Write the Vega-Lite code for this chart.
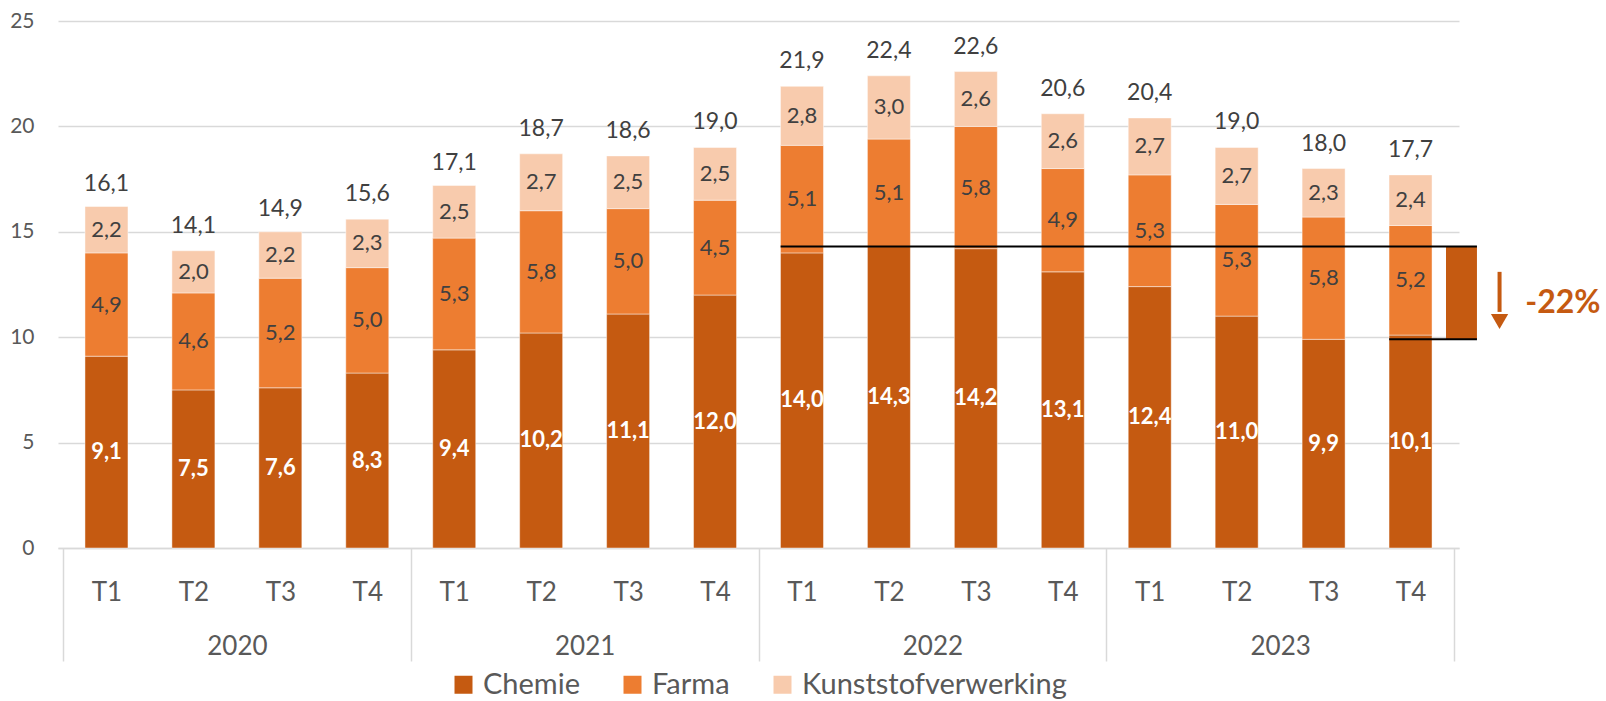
{
  "$schema": "https://vega.github.io/schema/vega-lite/v6.json",
  "width": 1401,
  "height": 527,
  "autosize": {"type": "none"},
  "padding": {"left": 58, "top": 21, "right": 147, "bottom": 153},
  "config": {"view": {"stroke": null}, "font": "Lato", "text": {"font": "Lato"}},
  "datasets": {
    "segments": [
      {"year": 2020, "quarter": 1, "series": "Chemie", "value": 9.1},
      {"year": 2020, "quarter": 1, "series": "Farma", "value": 4.9},
      {"year": 2020, "quarter": 1, "series": "Kunststofverwerking", "value": 2.2},
      {"year": 2020, "quarter": 2, "series": "Chemie", "value": 7.5},
      {"year": 2020, "quarter": 2, "series": "Farma", "value": 4.6},
      {"year": 2020, "quarter": 2, "series": "Kunststofverwerking", "value": 2.0},
      {"year": 2020, "quarter": 3, "series": "Chemie", "value": 7.6},
      {"year": 2020, "quarter": 3, "series": "Farma", "value": 5.2},
      {"year": 2020, "quarter": 3, "series": "Kunststofverwerking", "value": 2.2},
      {"year": 2020, "quarter": 4, "series": "Chemie", "value": 8.3},
      {"year": 2020, "quarter": 4, "series": "Farma", "value": 5.0},
      {"year": 2020, "quarter": 4, "series": "Kunststofverwerking", "value": 2.3},
      {"year": 2021, "quarter": 1, "series": "Chemie", "value": 9.4},
      {"year": 2021, "quarter": 1, "series": "Farma", "value": 5.3},
      {"year": 2021, "quarter": 1, "series": "Kunststofverwerking", "value": 2.5},
      {"year": 2021, "quarter": 2, "series": "Chemie", "value": 10.2},
      {"year": 2021, "quarter": 2, "series": "Farma", "value": 5.8},
      {"year": 2021, "quarter": 2, "series": "Kunststofverwerking", "value": 2.7},
      {"year": 2021, "quarter": 3, "series": "Chemie", "value": 11.1},
      {"year": 2021, "quarter": 3, "series": "Farma", "value": 5.0},
      {"year": 2021, "quarter": 3, "series": "Kunststofverwerking", "value": 2.5},
      {"year": 2021, "quarter": 4, "series": "Chemie", "value": 12.0},
      {"year": 2021, "quarter": 4, "series": "Farma", "value": 4.5},
      {"year": 2021, "quarter": 4, "series": "Kunststofverwerking", "value": 2.5},
      {"year": 2022, "quarter": 1, "series": "Chemie", "value": 14.0},
      {"year": 2022, "quarter": 1, "series": "Farma", "value": 5.1},
      {"year": 2022, "quarter": 1, "series": "Kunststofverwerking", "value": 2.8},
      {"year": 2022, "quarter": 2, "series": "Chemie", "value": 14.3},
      {"year": 2022, "quarter": 2, "series": "Farma", "value": 5.1},
      {"year": 2022, "quarter": 2, "series": "Kunststofverwerking", "value": 3.0},
      {"year": 2022, "quarter": 3, "series": "Chemie", "value": 14.2},
      {"year": 2022, "quarter": 3, "series": "Farma", "value": 5.8},
      {"year": 2022, "quarter": 3, "series": "Kunststofverwerking", "value": 2.6},
      {"year": 2022, "quarter": 4, "series": "Chemie", "value": 13.1},
      {"year": 2022, "quarter": 4, "series": "Farma", "value": 4.9},
      {"year": 2022, "quarter": 4, "series": "Kunststofverwerking", "value": 2.6},
      {"year": 2023, "quarter": 1, "series": "Chemie", "value": 12.4},
      {"year": 2023, "quarter": 1, "series": "Farma", "value": 5.3},
      {"year": 2023, "quarter": 1, "series": "Kunststofverwerking", "value": 2.7},
      {"year": 2023, "quarter": 2, "series": "Chemie", "value": 11.0},
      {"year": 2023, "quarter": 2, "series": "Farma", "value": 5.3},
      {"year": 2023, "quarter": 2, "series": "Kunststofverwerking", "value": 2.7},
      {"year": 2023, "quarter": 3, "series": "Chemie", "value": 9.9},
      {"year": 2023, "quarter": 3, "series": "Farma", "value": 5.8},
      {"year": 2023, "quarter": 3, "series": "Kunststofverwerking", "value": 2.3},
      {"year": 2023, "quarter": 4, "series": "Chemie", "value": 10.1},
      {"year": 2023, "quarter": 4, "series": "Farma", "value": 5.2},
      {"year": 2023, "quarter": 4, "series": "Kunststofverwerking", "value": 2.4}
    ],
    "totals": [
      {"year": 2020, "quarter": 1, "total": 16.1},
      {"year": 2020, "quarter": 2, "total": 14.1},
      {"year": 2020, "quarter": 3, "total": 14.9},
      {"year": 2020, "quarter": 4, "total": 15.6},
      {"year": 2021, "quarter": 1, "total": 17.1},
      {"year": 2021, "quarter": 2, "total": 18.7},
      {"year": 2021, "quarter": 3, "total": 18.6},
      {"year": 2021, "quarter": 4, "total": 19.0},
      {"year": 2022, "quarter": 1, "total": 21.9},
      {"year": 2022, "quarter": 2, "total": 22.4},
      {"year": 2022, "quarter": 3, "total": 22.6},
      {"year": 2022, "quarter": 4, "total": 20.6},
      {"year": 2023, "quarter": 1, "total": 20.4},
      {"year": 2023, "quarter": 2, "total": 19.0},
      {"year": 2023, "quarter": 3, "total": 18.0},
      {"year": 2023, "quarter": 4, "total": 17.7}
    ],
    "lines": [
      {"x": 2022.0636, "x2": 2024.066, "y": 14.3},
      {"x": 2023.8136, "x2": 2024.066, "y": 9.9}
    ],
    "gap": [
      {"x": 2023.977, "x2": 2024.066, "y": 14.3, "y2": 9.9}
    ]
  },
  "layer": [
    {
      "data": {"name": "segments"},
      "transform": [
        {"calculate": "datum.year + (datum.quarter - 0.5) / 4", "as": "t"},
        {"stack": "value", "groupby": ["t"], "sort": [{"field": "series", "order": "ascending"}], "as": ["y0", "y1"]}
      ],
      "mark": {"type": "bar", "width": 43, "stroke": "#ffffff", "strokeWidth": 1, "strokeOpacity": 0.45},
      "encoding": {
        "x": {
          "field": "t", "type": "quantitative",
          "scale": {"domain": [2020, 2024], "nice": false, "zero": false},
          "axis": {
            "title": null,
            "values": [2020, 2020.125, 2020.375, 2020.5, 2020.625, 2020.875, 2021, 2021.125, 2021.375, 2021.5, 2021.625, 2021.875, 2022, 2022.125, 2022.375, 2022.5, 2022.625, 2022.875, 2023, 2023.125, 2023.375, 2023.5, 2023.625, 2023.875, 2024],
            "grid": false,
            "domain": true, "domainColor": "#D9D9D9", "domainWidth": 1.5,
            "ticks": true, "tickSize": 113, "tickColor": "#D9D9D9", "tickWidth": 1.5,
            "tickOpacity": {"condition": {"test": "datum.value % 1 === 0", "value": 1}, "value": 0},
            "labelExpr": "datum.value % 1 === 0 ? '' : (datum.value % 1 === 0.5 ? ['', '' + floor(datum.value)] : 'T' + (floor((datum.value % 1) * 4) + 1))",
            "labelBaseline": "top", "labelPadding": -82, "labelLineHeight": 54,
            "labelFontSize": 26, "labelColor": "#595959", "labelFont": "Lato",
            "labelOverlap": false, "labelFlush": false, "labelBound": false
          }
        },
        "y": {
          "field": "y1", "type": "quantitative", "stack": null,
          "scale": {"domain": [0, 25], "nice": false},
          "axis": {
            "title": null, "values": [0, 5, 10, 15, 20, 25],
            "domain": false, "ticks": false, "tickSize": 0, "labelPadding": 24,
            "labelFontSize": 21, "labelColor": "#595959", "labelFont": "Lato",
            "grid": true, "gridColor": "#D9D9D9", "gridWidth": 1.5
          }
        },
        "y2": {"field": "y0"},
        "color": {
          "field": "series", "type": "nominal",
          "scale": {"domain": ["Chemie", "Farma", "Kunststofverwerking"], "range": ["#C55A11", "#ED7D31", "#F8CBAD"]},
          "legend": {
            "title": null, "orient": "none", "legendX": 391, "legendY": 649, "direction": "horizontal",
            "symbolType": "square", "symbolSize": 324, "symbolStrokeWidth": 0,
            "labelFontSize": 29, "labelColor": "#595959", "labelFont": "Lato", "labelLimit": 500,
            "labelOffset": 5, "columnPadding": 38, "padding": 0
          }
        }
      }
    },
    {
      "data": {"name": "gap"},
      "mark": {"type": "bar", "color": "#C55A11"},
      "encoding": {
        "x": {"field": "x", "type": "quantitative"},
        "x2": {"field": "x2"},
        "y": {"field": "y", "type": "quantitative"},
        "y2": {"field": "y2"}
      }
    },
    {
      "data": {"name": "lines"},
      "mark": {"type": "rule", "color": "#000000", "strokeWidth": 2},
      "encoding": {
        "x": {"field": "x", "type": "quantitative"},
        "x2": {"field": "x2"},
        "y": {"field": "y", "type": "quantitative"}
      }
    },
    {
      "data": {"values": [{"x": 2024.131, "from": 13.1, "to": 11.2}]},
      "mark": {"type": "rule", "color": "#C55A11", "strokeWidth": 4},
      "encoding": {
        "x": {"field": "x", "type": "quantitative"},
        "y": {"field": "from", "type": "quantitative"},
        "y2": {"field": "to"}
      }
    },
    {
      "data": {"values": [{"x": 2024.131, "y": 10.74}]},
      "mark": {"type": "point", "shape": "triangle-down", "filled": true, "size": 300, "color": "#C55A11", "opacity": 1},
      "encoding": {
        "x": {"field": "x", "type": "quantitative"},
        "y": {"field": "y", "type": "quantitative"}
      }
    },
    {
      "data": {"values": [{"x": 2024.205, "y": 11.62, "label": "-22%"}]},
      "mark": {"type": "text", "align": "left", "baseline": "middle", "fontSize": 32, "fontWeight": "bold", "font": "Lato", "color": "#C55A11"},
      "encoding": {
        "x": {"field": "x", "type": "quantitative"},
        "y": {"field": "y", "type": "quantitative"},
        "text": {"field": "label"}
      }
    },
    {
      "data": {"name": "segments"},
      "transform": [
        {"calculate": "datum.year + (datum.quarter - 0.5) / 4", "as": "t"},
        {"stack": "value", "groupby": ["t"], "sort": [{"field": "series", "order": "ascending"}], "as": ["y0", "y1"]},
        {"calculate": "(datum.y0 + datum.y1) / 2", "as": "mid"},
        {"calculate": "replace(format(datum.value, '.1f'), '.', ',')", "as": "label"},
        {"filter": "datum.series === 'Chemie'"}
      ],
      "mark": {"type": "text", "align": "center", "baseline": "middle", "fontSize": 22, "fontWeight": "bold", "font": "Lato", "color": "#ffffff"},
      "encoding": {
        "x": {"field": "t", "type": "quantitative"},
        "y": {"field": "mid", "type": "quantitative"},
        "text": {"field": "label"}
      }
    },
    {
      "data": {"name": "segments"},
      "transform": [
        {"calculate": "datum.year + (datum.quarter - 0.5) / 4", "as": "t"},
        {"stack": "value", "groupby": ["t"], "sort": [{"field": "series", "order": "ascending"}], "as": ["y0", "y1"]},
        {"calculate": "(datum.y0 + datum.y1) / 2", "as": "mid"},
        {"calculate": "replace(format(datum.value, '.1f'), '.', ',')", "as": "label"},
        {"filter": "datum.series !== 'Chemie'"}
      ],
      "mark": {"type": "text", "align": "center", "baseline": "middle", "fontSize": 22, "font": "Lato", "color": "#404040"},
      "encoding": {
        "x": {"field": "t", "type": "quantitative"},
        "y": {"field": "mid", "type": "quantitative"},
        "text": {"field": "label"}
      }
    },
    {
      "data": {"name": "totals"},
      "transform": [
        {"calculate": "datum.year + (datum.quarter - 0.5) / 4", "as": "t"},
        {"calculate": "replace(format(datum.total, '.1f'), '.', ',')", "as": "label"}
      ],
      "mark": {"type": "text", "align": "center", "baseline": "middle", "fontSize": 23, "font": "Lato", "color": "#404040", "dy": -25},
      "encoding": {
        "x": {"field": "t", "type": "quantitative"},
        "y": {"field": "total", "type": "quantitative"},
        "text": {"field": "label"}
      }
    }
  ]
}
